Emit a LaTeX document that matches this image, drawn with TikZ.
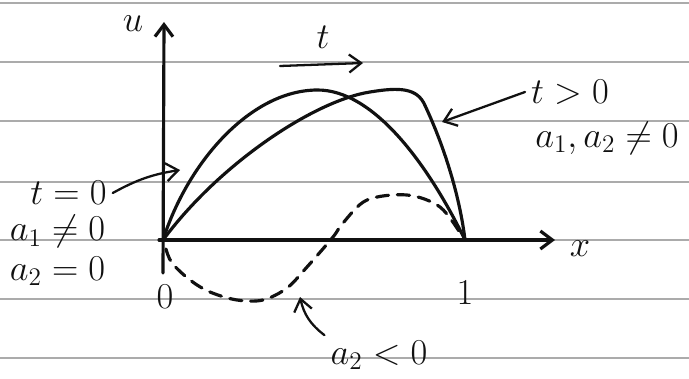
\documentclass[tikz,border=0pt]{standalone}
\usepackage{tikz}
\usetikzlibrary{arrows.meta}
\definecolor{PaperLine}{HTML}{ABABAB}
\definecolor{Ink}{HTML}{111111}

\begin{document}
\begin{tikzpicture}[x=1cm,y=1cm,
  paperline/.style={PaperLine,line width=.6pt},
  curve/.style={Ink,line width=1.8pt,line cap=round,line join=round},
  pointer/.style={Ink,line width=1.3pt,line cap=round,-{Straight Barb[length=2.4mm,width=3.6mm]}},
  lbl/.style={Ink,font=\huge}]
\path[use as bounding box] (0,0) rectangle (13.78,7.56);
\fill[white] (0,0) rectangle (13.78,7.56);
\foreach \yy in {7.50,6.32,5.14,3.92,2.76,1.58,0.40}
  \draw[paperline] (0,\yy) -- (13.78,\yy);
% axes
\coordinate (O) at (3.26,2.76);
\coordinate (xstart) at (3.18,2.76);
\coordinate (xtip) at (11.10,2.76);
\coordinate (ybot) at (3.26,2.10);
\coordinate (ytip) at (3.28,7.12);
\coordinate (one) at (9.30,2.76);
\draw[pointer,line width=1.8pt] (xstart) -- (xtip);
\draw[pointer,line width=1.8pt] (ybot) -- (ytip);
% profiles
\draw[curve] (O) .. controls (3.75,4.30) and (5.00,5.75) .. (6.34,5.76)
  .. controls (7.50,5.77) and (8.60,4.20) .. (one);
\draw[curve] (O) .. controls (4.40,4.30) and (6.30,5.55) .. (7.40,5.72)
  .. controls (8.00,5.82) and (8.35,5.80) .. (8.50,5.45)
  .. controls (8.90,4.60) and (9.20,3.60) .. (one);
\draw[curve,dash pattern=on 7pt off 5pt] plot[smooth,tension=.55] coordinates {(3.32,2.58) (3.44,2.30) (3.80,1.96) (4.20,1.72) (4.74,1.56) (5.26,1.56) (5.74,1.80) (6.14,2.22) (6.66,2.82) (6.86,3.10) (7.34,3.56) (8.14,3.66) (8.80,3.42) (9.24,2.84)};
% labels
\node[lbl] (ulab) at (2.66,7.08) {$u$};
\node[lbl] (xlab) at (11.60,2.58) {$x$};
\node[lbl] (tlab) at (6.46,6.82) {$t$};
\coordinate (tfrom) at (5.60,6.24);
\coordinate (tto) at (7.26,6.30);
\draw[pointer] (tfrom) -- (tto);
\node[lbl] (zerolab) at (3.30,1.62) {$0$};
\node[lbl] (onelab) at (9.30,1.70) {$1$};
\node[lbl] (tzero) at (1.37,3.70) {$t=0$};
\node[lbl] (aonez) at (1.15,2.93) {$a_1\neq 0$};
\node[lbl] (atwoz) at (1.15,2.13) {$a_2=0$};
\node[lbl] (tpos) at (11.40,5.72) {$t>0$};
\node[lbl] (aboth) at (12.14,4.80) {$a_1,a_2\neq 0$};
\node[lbl] (aneg) at (7.58,0.46) {$a_2<0$};
% pointers
\coordinate (tzerotip) at (3.60,4.16);
\draw[pointer] (tzero.east) to[bend left=10] (tzerotip);
\coordinate (tpostip) at (8.84,5.12);
\draw[pointer] (tpos.west) -- (tpostip);
\coordinate (anegtip) at (6.00,1.62);
\draw[pointer] (aneg.160) to[bend left=20] (anegtip);
\end{tikzpicture}
\end{document}
